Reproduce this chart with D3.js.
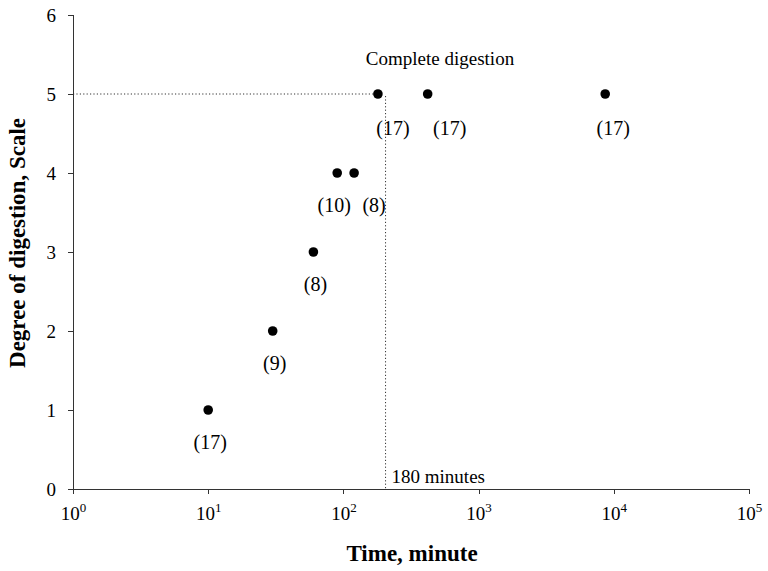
<!DOCTYPE html>
<html>
<head>
<meta charset="utf-8" />
<script src="https://cdn.jsdelivr.net/npm/d3@7"></script>
<style>
html, body { margin: 0; padding: 0; background: #fff; }
svg text { font-family: "Liberation Serif", "Times New Roman", serif; fill: #000; }
.axis path, .axis line { stroke: #333; shape-rendering: crispEdges; }
.dotted { stroke: #333; stroke-width: 1; stroke-dasharray: 1.2,2.2; fill: none; }
</style>
</head>
<body>
<div id="chart"></div>
<script>
// time in minutes, degree of digestion, sample count (n)
var times = [10, 30, 60, 90, 120, 180, 420, 8640];
var degrees = [1, 2, 3, 4, 4, 5, 5, 5];
var counts = [17, 9, 8, 10, 8, 17, 17, 17];
var labelShift = [2, 2, 2, -3, 20, 15, 22, 8];
var xTicks = [1, 10, 100, 1000, 10000, 100000];
var yTicks = [0, 1, 2, 3, 4, 5, 6];
var cutoffTime = 205;

var W = 768, H = 571;
var margin = {left: 73, right: 19, top: 15, bottom: 82};

var svg = d3.select('#chart').append('svg')
	.attr('width', W)
	.attr('height', H);

var x = d3.scaleLog()
	.domain([1, 100000])
	.range([margin.left, W - margin.right]);

var y = d3.scaleLinear()
	.domain([0, 6])
	.range([H - margin.bottom, margin.top]);

// dotted guide lines
svg.append('line').classed('dotted', true)
	.attr('x1', x(1)).attr('x2', x(180) - 4)
	.attr('y1', y(5)).attr('y2', y(5));
svg.append('line').classed('dotted', true)
	.attr('x1', x(cutoffTime)).attr('x2', x(cutoffTime))
	.attr('y1', y(5) + 2).attr('y2', y(0));

// x axis
var gx = svg.append('g').classed('axis', true)
	.attr('transform', 'translate(0,' + y(0) + ')')
	.call(d3.axisBottom(x).tickValues(xTicks).tickSizeOuter(0).tickSize(5).tickFormat(''));
gx.select('.domain').attr('stroke-width', 1.5);
gx.selectAll('.tick').append('text')
	.attr('y', 31)
	.attr('text-anchor', 'middle')
	.style('font-size', '19px')
	.each(function(d) {
		var t = d3.select(this);
		t.append('tspan').text('10');
		t.append('tspan').attr('dy', -8).style('font-size', '13px').text(Math.round(Math.log10(d)));
	});

// y axis
var gy = svg.append('g').classed('axis', true)
	.attr('transform', 'translate(' + x(1) + ',0)')
	.call(d3.axisLeft(y).tickValues(yTicks).tickSizeOuter(0).tickSize(5).tickPadding(12).tickFormat(d3.format('d')));
gy.selectAll('.tick text').style('font-size', '19px').attr('fill', '#000');
gy.select('.domain').attr('stroke', '#000');

// points
svg.selectAll('circle.pt').data(times).enter().append('circle')
	.classed('pt', true)
	.attr('cx', function(d) { return x(d); })
	.attr('cy', function(d, i) { return y(degrees[i]); })
	.attr('r', 4.8)
	.attr('fill', '#000');

// n labels
svg.selectAll('text.n').data(times).enter().append('text')
	.classed('n', true)
	.attr('x', function(d, i) { return x(d) + labelShift[i]; })
	.attr('y', function(d, i) { return y(degrees[i]) + (degrees[i] === 5 ? 41 : 39); })
	.attr('text-anchor', 'middle')
	.style('font-size', '20px')
	.text(function(d, i) { return '(' + counts[i] + ')'; });

// annotations
svg.append('text')
	.attr('x', 440).attr('y', 65)
	.attr('text-anchor', 'middle')
	.style('font-size', '19px')
	.text('Complete digestion');
svg.append('text')
	.attr('x', x(cutoffTime) + 6).attr('y', 483)
	.style('font-size', '19px')
	.text('180 minutes');

// axis titles
svg.append('text')
	.attr('x', 412).attr('y', 561)
	.attr('text-anchor', 'middle')
	.style('font-size', '23px')
	.style('font-weight', 'bold')
	.text('Time, minute');
svg.append('text')
	.attr('transform', 'translate(25,243) rotate(-90)')
	.attr('text-anchor', 'middle')
	.style('font-size', '23px')
	.style('font-weight', 'bold')
	.text('Degree of digestion, Scale');
</script>
</body>
</html>
